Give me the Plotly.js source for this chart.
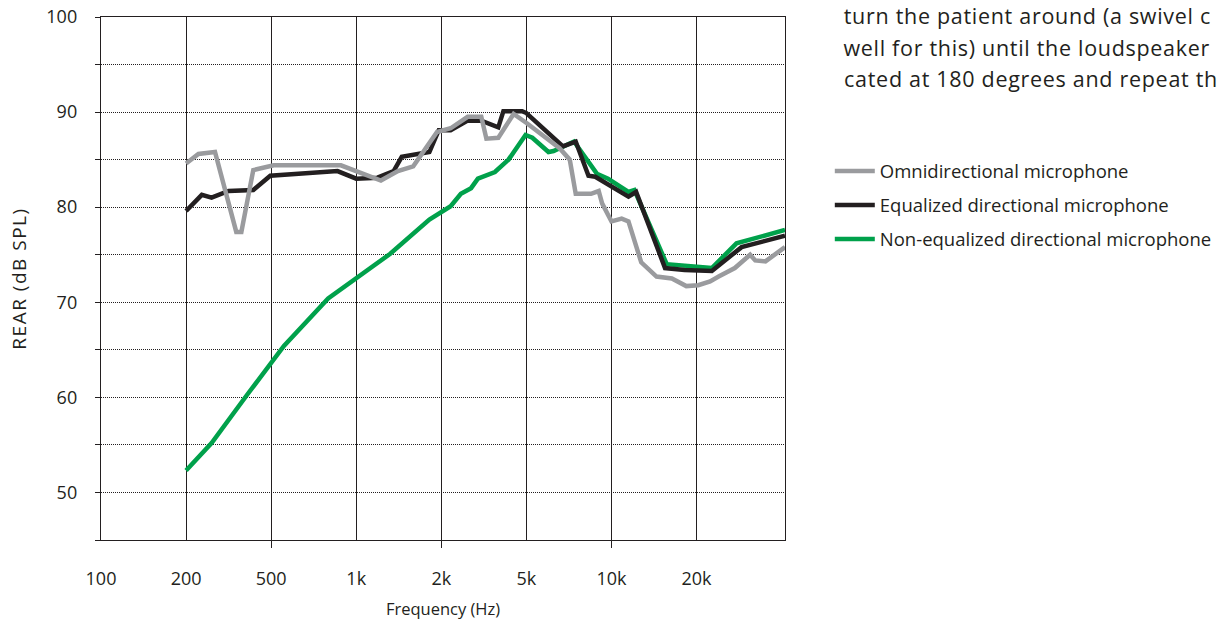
<!DOCTYPE html>
<html>
<head>
<meta charset="utf-8">
<script src="https://cdn.plot.ly/plotly-3.0.1.min.js"></script>
<style>
  html, body { margin: 0; padding: 0; background: #fff; }
  #chart { width: 1221px; height: 620px; }
  #chart text.ytitle { letter-spacing: 1.5px; }
  #chart text.annotation-text { letter-spacing: 0.7px; }
</style>
</head>
<body>
<div id="chart"></div>
<script>
// Tick scale: positions 0..7 are the evenly spaced frequency marks
const freqTickPos  = [0, 1, 2, 3, 4, 5, 6, 7];
const freqTickText = ['100', '200', '500', '1k', '2k', '5k', '10k', '20k'];
const freqStubPos  = [2, 4, 6];   // short marks below the axis at 500, 2k, 10k

const dbTickVals = [45, 50, 55, 60, 65, 70, 75, 80, 85, 90, 95, 100];
const dbTickText = ['', '50', '', '60', '', '70', '', '80', '', '90', '', '100'];

// Omnidirectional microphone (position on frequency scale, dB SPL)
const omniPos = [1.00, 1.145, 1.34, 1.59, 1.65, 1.79, 2.03, 2.82, 3.29, 3.49, 3.67, 3.95, 4.11, 4.31, 4.47, 4.53, 4.67, 4.85, 5.01, 5.39, 5.51, 5.58, 5.76, 5.85, 5.89, 6.00, 6.12, 6.20, 6.35, 6.53, 6.71, 6.88, 7.02, 7.16, 7.26, 7.45, 7.63, 7.69, 7.81, 8.04];
const omniDb  = [84.6, 85.6, 85.8, 77.4, 77.4, 83.9, 84.4, 84.4, 82.8, 83.8, 84.3, 87.9, 88.3, 89.5, 89.5, 87.2, 87.3, 89.8, 88.8, 86.2, 85.0, 81.4, 81.4, 81.7, 80.4, 78.5, 78.8, 78.5, 74.2, 72.7, 72.5, 71.7, 71.8, 72.2, 72.7, 73.6, 75.0, 74.4, 74.3, 75.8];

// Equalized directional microphone
const eqPos = [1.00, 1.185, 1.30, 1.50, 1.79, 1.99, 2.78, 3.00, 3.25, 3.44, 3.535, 3.86, 3.97, 4.11, 4.31, 4.47, 4.67, 4.73, 4.95, 5.00, 5.43, 5.58, 5.73, 5.81, 6.20, 6.29, 6.63, 6.86, 7.18, 7.53, 8.04];
const eqDb  = [79.6, 81.3, 81.0, 81.7, 81.8, 83.3, 83.8, 83.0, 83.1, 83.8, 85.3, 85.8, 88.1, 88.1, 89.1, 89.1, 88.4, 90.1, 90.1, 89.9, 86.4, 86.9, 83.3, 83.2, 81.1, 81.6, 73.6, 73.4, 73.3, 75.8, 77.0];

// Non-equalized directional microphone
const nonEqPos = [1.00, 1.30, 1.72, 1.99, 2.15, 2.67, 3.00, 3.40, 3.86, 4.05, 4.11, 4.23, 4.35, 4.43, 4.63, 4.79, 4.99, 5.07, 5.26, 5.32, 5.56, 5.83, 5.96, 6.20, 6.27, 6.65, 7.18, 7.47, 8.04];
const nonEqDb  = [52.3, 55.2, 60.3, 63.5, 65.4, 70.4, 72.5, 75.1, 78.7, 79.8, 80.1, 81.4, 82.0, 83.0, 83.7, 85.0, 87.6, 87.3, 85.8, 85.9, 86.9, 83.5, 83.0, 81.6, 81.8, 74.0, 73.6, 76.2, 77.6];

const paragraphLines = [
  'turn the patient around (a swivel c',
  'well for this) until the loudspeaker',
  'cated at 180 degrees and repeat th'
];

const FONT = 'Open Sans, sans-serif';
const INK = '#231f20';
const X_RANGE = [0, 8.04];

// drawn bottom-to-top: green, black, grey; legend lists grey, black, green
const traces = [
  { x: nonEqPos, y: nonEqDb, name: 'Non-equalized directional microphone', legendgroup: 'c', legendrank: 3,
    mode: 'lines', line: { color: '#00a14b', width: 4.5 } },
  { x: eqPos, y: eqDb, name: 'Equalized directional microphone', legendgroup: 'b', legendrank: 2,
    mode: 'lines', line: { color: '#231f20', width: 4.5 } },
  { x: omniPos, y: omniDb, name: 'Omnidirectional microphone', legendgroup: 'a', legendrank: 1,
    mode: 'lines', line: { color: '#9a9b9e', width: 4.5 } }
];

const annotations = paragraphLines.map((t, i) => ({
  text: t, xref: 'paper', yref: 'paper',
  x: 1.1008, y: [1.0038, 0.9426, 0.8815][i],
  xanchor: 'left', yanchor: 'middle', showarrow: false,
  font: { family: FONT, size: 21.5, color: INK }
}));

const layout = {
  width: 1221, height: 620,
  margin: { l: 101, r: 436, t: 17, b: 80, autoexpand: false },
  paper_bgcolor: '#fff', plot_bgcolor: '#fff',
  font: { family: FONT, color: INK },
  showlegend: true,
  legend: {
    x: 1.0655, xanchor: 'left', y: 0.741, yanchor: 'top',
    traceorder: 'grouped', tracegroupgap: 7,
    font: { family: FONT, size: 18.5, color: INK },
    bgcolor: 'rgba(0,0,0,0)', borderwidth: 0, itemwidth: 40
  },
  xaxis: {
    range: X_RANGE, tickmode: 'array', tickvals: freqTickPos, ticktext: freqTickText,
    showgrid: true, gridcolor: INK, gridwidth: 1.1, zeroline: false,
    showline: true, mirror: true, linecolor: INK, linewidth: 1.2,
    ticks: '', ticklabelstandoff: 22,
    tickfont: { family: FONT, size: 18, color: INK },
    minor: { tickmode: 'array', tickvals: freqStubPos, ticks: 'outside', ticklen: 7,
             tickwidth: 1.1, tickcolor: INK, showgrid: false },
    title: { text: 'Frequency (Hz)', standoff: 14, font: { family: FONT, size: 16.5, color: INK } },
    fixedrange: true
  },
  yaxis: {
    range: [45, 100], tickmode: 'array', tickvals: dbTickVals, ticktext: dbTickText,
    showgrid: true, gridcolor: INK, gridwidth: 1, griddash: '1px,1px', zeroline: false,
    showline: true, mirror: true, linecolor: INK, linewidth: 1.2,
    ticks: 'outside', ticklen: 5, tickcolor: INK, tickwidth: 1, ticklabelstandoff: 14,
    tickfont: { family: FONT, size: 18, color: INK },
    title: { text: 'REAR (dB SPL)', standoff: 14, font: { family: FONT, size: 19, color: INK } },
    fixedrange: true
  },
  annotations: annotations
};

Plotly.newPlot('chart', traces, layout, { displayModeBar: false, staticPlot: true });
</script>
</body>
</html>
